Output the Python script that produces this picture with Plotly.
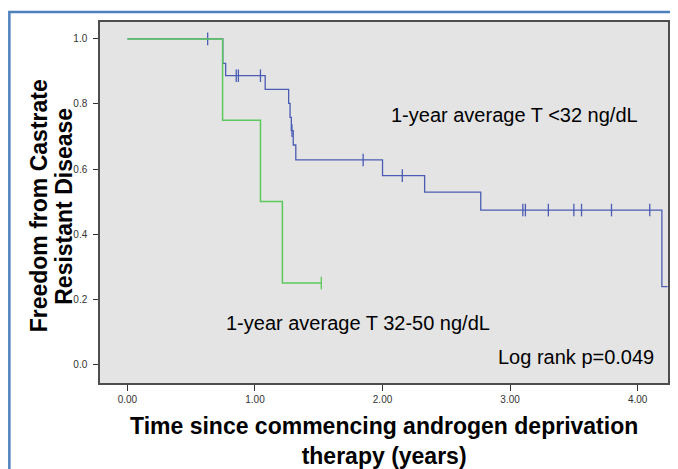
import numpy as np
import plotly.graph_objects as go

# ---- data ----
blue_times = [0.0, 0.748, 0.770, 1.080, 1.264, 1.275, 1.285, 1.300, 1.320, 2.000, 2.330, 2.770, 4.190, 4.235]
blue_surv = [1.0, 0.925, 0.887, 0.845, 0.802, 0.759, 0.718, 0.674, 0.628, 0.580, 0.529, 0.474, 0.239, 0.239]
blue_censor = [0.629, 0.853, 0.870, 1.043, 1.290, 1.848, 2.155, 3.100, 3.120, 3.300, 3.500, 3.560, 3.795, 4.095]

green_times = [0.0, 0.746, 1.043, 1.215, 1.520]
green_surv = [1.0, 0.75, 0.50, 0.25, 0.25]
green_censor = [1.520]

x_ticks = [0, 1, 2, 3, 4]
x_ticklabels = ["0.00", "1.00", "2.00", "3.00", "4.00"]
y_ticks = [0.0, 0.2, 0.4, 0.6, 0.8, 1.0]
y_ticklabels = ["0.0", "0.2", "0.4", "0.6", "0.8", "1.0"]

label_low = "1-year average T <32 ng/dL"
label_mid = "1-year average T 32-50 ng/dL"
label_p = "Log rank p=0.049"
y_title_lines = ["Freedom from Castrate", "Resistant Disease"]
x_title = "Time since commencing androgen deprivation<br>therapy (years)"


def step_value(times, surv, t):
    idx = np.searchsorted(np.array(times), t, side="right") - 1
    return [surv[i] for i in idx]


BLUE = "#4a5cb4"
GREEN = "#5cc75c"

fig = go.Figure()
fig.add_trace(go.Scatter(x=blue_times, y=blue_surv, mode="lines", line_shape="hv",
                         line=dict(color=BLUE, width=1.3), hoverinfo="skip"))
fig.add_trace(go.Scatter(x=blue_censor, y=step_value(blue_times, blue_surv, blue_censor),
                         mode="markers", marker=dict(symbol="line-ns-open", size=9, color=BLUE,
                                                     line=dict(color=BLUE, width=1.3)),
                         hoverinfo="skip"))
fig.add_trace(go.Scatter(x=green_times, y=green_surv, mode="lines", line_shape="hv",
                         line=dict(color=GREEN, width=1.5), hoverinfo="skip"))
fig.add_trace(go.Scatter(x=green_censor, y=step_value(green_times, green_surv, green_censor),
                         mode="markers", marker=dict(symbol="line-ns-open", size=9, color=GREEN,
                                                     line=dict(color=GREEN, width=1.3)),
                         hoverinfo="skip"))

FONT = "Liberation Sans, Arial, sans-serif"

fig.update_layout(
    width=670, height=461,
    margin=dict(l=92, r=8, t=14, b=86),
    paper_bgcolor="white", plot_bgcolor="#e4e4e4",
    showlegend=False,
    font=dict(family=FONT, color="#000"),
    xaxis=dict(range=[-0.215, 4.238], tickvals=x_ticks, ticktext=x_ticklabels,
               showgrid=False, zeroline=False, ticks="outside", ticklen=6,
               tickcolor="#333", tickwidth=1, tickfont=dict(size=10, color="#333"),
               showline=True, linecolor="#4d4d4d", linewidth=1.5, mirror=True),
    yaxis=dict(range=[-0.0575, 1.052], tickvals=y_ticks, ticktext=y_ticklabels,
               showgrid=False, zeroline=False, ticks="outside", ticklen=5,
               ticklabelstandoff=4,
               tickcolor="#333", tickwidth=1, tickfont=dict(size=10, color="#333"),
               showline=True, linecolor="#4d4d4d", linewidth=1.5, mirror=True),
    annotations=[
        dict(text=label_low, x=0.509, y=0.743, xref="paper", yref="paper",
             xanchor="left", yanchor="middle", showarrow=False, font=dict(size=20)),
        dict(text=label_mid, x=0.218, y=0.166, xref="paper", yref="paper",
             xanchor="left", yanchor="middle", showarrow=False, font=dict(size=20)),
        dict(text=label_p, x=0.697, y=0.073, xref="paper", yref="paper",
             xanchor="left", yanchor="middle", showarrow=False, font=dict(size=20)),
        dict(text="<b>" + y_title_lines[0] + "</b>", x=-0.107, y=0.49,
             xref="paper", yref="paper", xanchor="center", yanchor="middle",
             textangle=-90, showarrow=False, font=dict(size=23)),
        dict(text="<b>" + y_title_lines[1] + "</b>", x=-0.064, y=0.49,
             xref="paper", yref="paper", xanchor="center", yanchor="middle",
             textangle=-90, showarrow=False, font=dict(size=23)),
        dict(text="<b>" + x_title + "</b>",
             x=0.5, y=-0.161, xref="paper", yref="paper", xanchor="center",
             yanchor="middle", showarrow=False, font=dict(size=23)),
    ],
    shapes=[
        dict(type="rect", xref="paper", yref="paper", x0=-0.1596, x1=1.03,
             y0=-0.26, y1=1.0277, line=dict(color="#4f81bd", width=2.5),
             fillcolor="rgba(0,0,0,0)", layer="below"),
    ],
)

fig.write_html("out.html")
